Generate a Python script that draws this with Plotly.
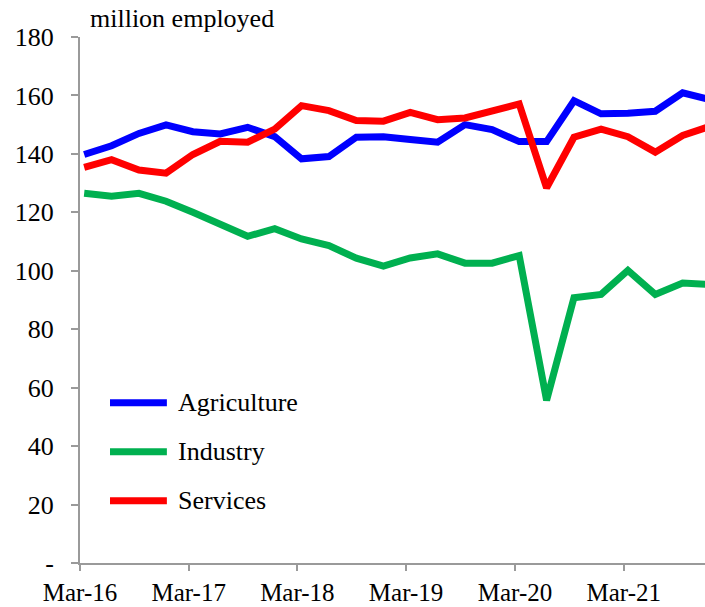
import plotly.graph_objects as go

# Quarterly observations, Mar-2016 to Dec-2021
quarters = [
    "2016-03-15", "2016-06-15", "2016-09-15", "2016-12-15",
    "2017-03-15", "2017-06-15", "2017-09-15", "2017-12-15",
    "2018-03-15", "2018-06-15", "2018-09-15", "2018-12-15",
    "2019-03-15", "2019-06-15", "2019-09-15", "2019-12-15",
    "2020-03-15", "2020-06-15", "2020-09-15", "2020-12-15",
    "2021-03-15", "2021-06-15", "2021-09-15", "2021-12-15",
]

# Employment by sector, million persons
agriculture = [139.8, 142.8, 147.0, 149.9, 147.6, 146.8, 149.1, 145.9,
               138.3, 139.1, 145.7, 145.9, 144.9, 144.0, 150.0, 148.3,
               144.2, 144.2, 158.2, 153.7, 153.9, 154.6, 160.9, 158.6]
industry = [126.5, 125.5, 126.5, 123.8, 120.0, 116.1, 111.8, 114.4,
            110.9, 108.6, 104.3, 101.6, 104.4, 105.8, 102.6, 102.6,
            105.2, 55.7, 90.8, 91.9, 100.1, 91.9, 95.8, 95.3]
services = [135.4, 138.0, 134.5, 133.4, 139.8, 144.3, 144.0, 148.5,
            156.5, 154.8, 151.4, 151.2, 154.2, 151.7, 152.3, 154.8,
            157.1, 128.4, 145.7, 148.5, 145.9, 140.6, 146.3, 149.4]

series = [
    ("Agriculture", agriculture, "#0000FF"),
    ("Industry", industry, "#00B050"),
    ("Services", services, "#FF0000"),
]

y_ticks = [0, 20, 40, 60, 80, 100, 120, 140, 160, 180]
y_tick_text = ["-", "20", "40", "60", "80", "100", "120", "140", "160", "180"]

FONT = "Times New Roman, Liberation Serif, serif"
AXIS_GREY = "#9a9a9a"

fig = go.Figure()
for name, values, color in series:
    fig.add_trace(go.Scatter(
        x=quarters, y=values, name=name, mode="lines",
        line=dict(color=color, width=7),
        showlegend=False,
    ))

# Hand-placed legend: swatch lines and labels inside the plot area
legend_rows = [0.3047, 0.2116, 0.1184]
for (name, _, color), yp in zip(series, legend_rows):
    fig.add_shape(type="line", xref="paper", yref="paper",
                  x0=0.048, x1=0.139, y0=yp, y1=yp,
                  line=dict(color=color, width=7))
    fig.add_annotation(xref="paper", yref="paper", x=0.1536, y=yp,
                       text=name, showarrow=False, xanchor="left",
                       yanchor="middle",
                       font=dict(family=FONT, size=26, color="black"))

fig.add_annotation(xref="paper", yref="paper", x=0.0128, y=1.036,
                   text="million employed", showarrow=False,
                   xanchor="left", yanchor="middle",
                   font=dict(family=FONT, size=26, color="black"))

fig.update_layout(
    width=705, height=607,
    margin=dict(l=80, r=0, t=37, b=44, autoexpand=False),
    paper_bgcolor="white", plot_bgcolor="white",
    font=dict(family=FONT, size=25, color="black"),
    showlegend=False,
)
fig.update_xaxes(
    type="date", automargin=False,
    range=["2016-03-01", "2021-11-29"],
    tick0="2016-03-01", dtick="M12", tickformat="%b-%y",
    showgrid=False, zeroline=False,
    showline=True, linecolor=AXIS_GREY, linewidth=2,
    ticks="outside", ticklen=6, tickwidth=2, tickcolor=AXIS_GREY,
    ticklabelstandoff=0,
    tickfont=dict(family=FONT, size=25, color="black"),
)
fig.update_yaxes(
    range=[0, 180], tickvals=y_ticks, ticktext=y_tick_text,
    automargin=False,
    showgrid=False, zeroline=False,
    showline=True, linecolor=AXIS_GREY, linewidth=2,
    ticks="outside", ticklen=7, tickwidth=2, tickcolor=AXIS_GREY,
    ticklabelstandoff=12,
    tickfont=dict(family=FONT, size=26, color="black"),
)

fig.write_html("out.html")
